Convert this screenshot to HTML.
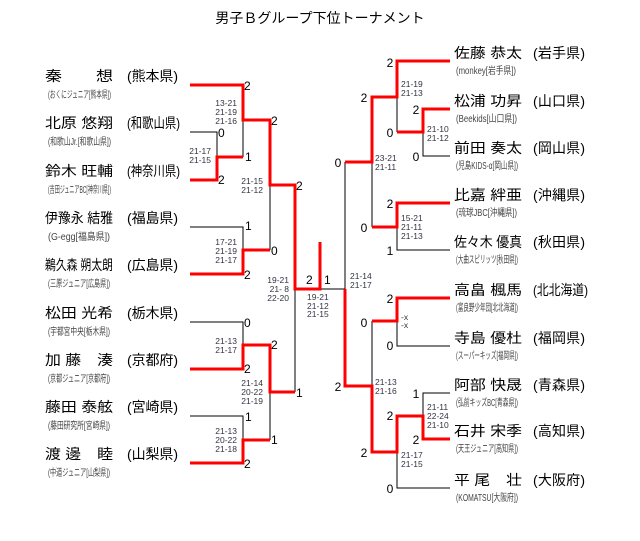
<!DOCTYPE html>
<html><head><meta charset="utf-8"><style>
html,body{margin:0;padding:0;background:#fff}
svg{display:block}
.t{font-family:"Liberation Sans","Noto Sans CJK JP",sans-serif}
.n{font-size:14px;fill:#000}
.p{font-size:14px;fill:#000}
.s{font-size:10px;fill:#444}
.g{font-size:8.5px;fill:#334}
.c{font-size:12px;fill:#000}
</style></head><body>
<svg width="640" height="541" viewBox="0 0 640 541" xmlns="http://www.w3.org/2000/svg" class="t">
<text x="320" y="23" class="n" text-anchor="middle" font-size="14">男子Ｂグループ下位トーナメント</text>

<!-- Left names -->
<g class="n">
<text x="45" y="81" textLength="68" lengthAdjust="spacingAndGlyphs">秦　　想</text>
<text x="45" y="128" textLength="68" lengthAdjust="spacingAndGlyphs">北原 悠翔</text>
<text x="45" y="176" textLength="68" lengthAdjust="spacingAndGlyphs">鈴木 旺輔</text>
<text x="45" y="223" textLength="68" lengthAdjust="spacingAndGlyphs">伊豫永 結雅</text>
<text x="45" y="270" textLength="68" lengthAdjust="spacingAndGlyphs">鵜久森 朔太朗</text>
<text x="45" y="318" textLength="68" lengthAdjust="spacingAndGlyphs">松田 光希</text>
<text x="45" y="365" textLength="68" lengthAdjust="spacingAndGlyphs">加 藤　湊</text>
<text x="45" y="412" textLength="68" lengthAdjust="spacingAndGlyphs">藤田 泰舷</text>
<text x="45" y="459" textLength="68" lengthAdjust="spacingAndGlyphs">渡 邊　睦</text>
</g>
<g class="p">
<text x="127" y="81" textLength="51" lengthAdjust="spacing">(熊本県)</text>
<text x="127" y="128" textLength="53" lengthAdjust="spacingAndGlyphs">(和歌山県)</text>
<text x="127" y="176" textLength="53" lengthAdjust="spacingAndGlyphs">(神奈川県)</text>
<text x="127" y="223" textLength="51" lengthAdjust="spacing">(福島県)</text>
<text x="127" y="270" textLength="51" lengthAdjust="spacing">(広島県)</text>
<text x="127" y="318" textLength="51" lengthAdjust="spacing">(栃木県)</text>
<text x="127" y="365" textLength="51" lengthAdjust="spacing">(京都府)</text>
<text x="127" y="412" textLength="51" lengthAdjust="spacing">(宮崎県)</text>
<text x="127" y="459" textLength="51" lengthAdjust="spacing">(山梨県)</text>
</g>
<g class="s">
<text x="48" y="98" textLength="63" lengthAdjust="spacingAndGlyphs">(おくにジュニア[熊本県])</text>
<text x="48" y="145" textLength="63" lengthAdjust="spacingAndGlyphs">(和歌山Jr.[和歌山県])</text>
<text x="48" y="193" textLength="63" lengthAdjust="spacingAndGlyphs">(吉田ジュニアBC[神奈川県])</text>
<text x="48" y="240" textLength="62" lengthAdjust="spacingAndGlyphs">(G-egg[福島県])</text>
<text x="48" y="287" textLength="62" lengthAdjust="spacingAndGlyphs">(三原ジュニア[広島県])</text>
<text x="48" y="335" textLength="62" lengthAdjust="spacingAndGlyphs">(宇都宮中央[栃木県])</text>
<text x="48" y="382" textLength="62" lengthAdjust="spacingAndGlyphs">(京都ジュニア[京都府])</text>
<text x="48" y="429" textLength="62" lengthAdjust="spacingAndGlyphs">(藤田研究所[宮崎県])</text>
<text x="48" y="476" textLength="62" lengthAdjust="spacingAndGlyphs">(中道ジュニア[山梨県])</text>
</g>

<!-- Right names -->
<g class="n">
<text x="454" y="58" textLength="68" lengthAdjust="spacingAndGlyphs">佐藤 恭太</text>
<text x="454" y="106" textLength="68" lengthAdjust="spacingAndGlyphs">松浦 功昇</text>
<text x="454" y="153" textLength="68" lengthAdjust="spacingAndGlyphs">前田 奏太</text>
<text x="454" y="200" textLength="68" lengthAdjust="spacingAndGlyphs">比嘉 絆亜</text>
<text x="454" y="247" textLength="68" lengthAdjust="spacingAndGlyphs">佐々木 優真</text>
<text x="454" y="295" textLength="68" lengthAdjust="spacingAndGlyphs">高畠 楓馬</text>
<text x="454" y="343" textLength="68" lengthAdjust="spacingAndGlyphs">寺島 優杜</text>
<text x="454" y="390" textLength="68" lengthAdjust="spacingAndGlyphs">阿部 快晟</text>
<text x="454" y="436" textLength="68" lengthAdjust="spacingAndGlyphs">石井 宋季</text>
<text x="454" y="485" textLength="68" lengthAdjust="spacingAndGlyphs">平 尾　壮</text>
</g>
<g class="p">
<text x="533" y="58" textLength="52" lengthAdjust="spacing">(岩手県)</text>
<text x="533" y="106" textLength="52" lengthAdjust="spacing">(山口県)</text>
<text x="533" y="153" textLength="52" lengthAdjust="spacing">(岡山県)</text>
<text x="533" y="200" textLength="52" lengthAdjust="spacing">(沖縄県)</text>
<text x="533" y="247" textLength="52" lengthAdjust="spacing">(秋田県)</text>
<text x="533" y="295" textLength="55" lengthAdjust="spacingAndGlyphs">(北北海道)</text>
<text x="533" y="343" textLength="52" lengthAdjust="spacing">(福岡県)</text>
<text x="533" y="390" textLength="52" lengthAdjust="spacing">(青森県)</text>
<text x="533" y="436" textLength="52" lengthAdjust="spacing">(高知県)</text>
<text x="533" y="485" textLength="52" lengthAdjust="spacing">(大阪府)</text>
</g>
<g class="s">
<text x="456" y="74" textLength="60" lengthAdjust="spacingAndGlyphs">(monkey[岩手県])</text>
<text x="456" y="122" textLength="61" lengthAdjust="spacingAndGlyphs">(Beekids[山口県])</text>
<text x="456" y="169" textLength="62" lengthAdjust="spacingAndGlyphs">(児島KIDS-α[岡山県])</text>
<text x="456" y="216" textLength="61" lengthAdjust="spacingAndGlyphs">(琉球JBC[沖縄県])</text>
<text x="456" y="263" textLength="62" lengthAdjust="spacingAndGlyphs">(大曲スピリッツ[秋田県])</text>
<text x="456" y="311" textLength="62" lengthAdjust="spacingAndGlyphs">(富良野少年団[北北海道])</text>
<text x="456" y="359" textLength="62" lengthAdjust="spacingAndGlyphs">(スーパーキッズ[福岡県])</text>
<text x="456" y="406" textLength="62" lengthAdjust="spacingAndGlyphs">(弘前キッズBC[青森県])</text>
<text x="456" y="452" textLength="62" lengthAdjust="spacingAndGlyphs">(天王ジュニア[高知県])</text>
<text x="456" y="501" textLength="62" lengthAdjust="spacingAndGlyphs">(KOMATSU[大阪府])</text>
</g>

<!-- Black lines -->
<g stroke="#000" stroke-width="1" fill="none">
<path d="M190 132H217V157"/>
<path d="M243 120V157"/>
<path d="M190 227H243V250"/>
<path d="M270 185V250"/>
<path d="M190 322H243V345"/>
<path d="M190 416H243V440"/>
<path d="M270 440V392"/>
<path d="M295 392V289"/>
<path d="M320 289H345V162"/>
<path d="M397 97V132"/>
<path d="M450 156H423V132"/>
<path d="M372 162V227"/>
<path d="M450 250H397V227"/>
<path d="M372 321V386"/>
<path d="M450 346H397V321"/>
<path d="M450 393H423V416"/>
<path d="M450 488H397V452"/>
</g>
<!-- Red lines -->
<g stroke="#ff0000" stroke-width="3" fill="none" stroke-linejoin="miter">
<path d="M190 85H243V120H270V185H295V289H320V242"/>
<path d="M190 180H217V157H243"/>
<path d="M190 274H243V250H270"/>
<path d="M190 369H243V345H270V392H295"/>
<path d="M190 463H243V440H270"/>
<path d="M450 61H397V97H372V162H345"/>
<path d="M397 132H423V109H450"/>
<path d="M450 203H397V227H372"/>
<path d="M450 298H397V321H372"/>
<path d="M345 289V386H372V452H397V416H423V439H450"/>
</g>

<!-- round scores -->
<g class="c">
<text x="244" y="90">2</text><text x="271" y="125">2</text>
<text x="218" y="137">0</text><text x="245" y="161">1</text>
<text x="218" y="184">2</text><text x="296" y="190">2</text>
<text x="245" y="230">1</text><text x="271" y="255">0</text>
<text x="244" y="279">2</text>
<text x="306" y="284">2</text><text x="324" y="284">1</text>
<text x="244" y="327">0</text><text x="271" y="349">2</text>
<text x="244" y="373">2</text><text x="296" y="397">1</text>
<text x="245" y="421">1</text><text x="271" y="444">1</text>
<text x="244" y="468">2</text>
</g>
<g class="c" text-anchor="middle">
<text x="390" y="67">2</text><text x="364" y="102">2</text>
<text x="390" y="137">0</text><text x="416" y="114">2</text>
<text x="416" y="161">0</text><text x="338" y="167">0</text>
<text x="390" y="208">2</text><text x="364" y="232">0</text>
<text x="390" y="255">1</text>
<text x="390" y="303">2</text><text x="364" y="327">0</text>
<text x="390" y="350">0</text><text x="338" y="391">2</text>
<text x="416" y="398">1</text><text x="390" y="420">2</text>
<text x="416" y="444">2</text><text x="364" y="457">2</text>
<text x="390" y="493">0</text>
</g>

<!-- game scores -->
<g class="g" text-anchor="end">
<text x="237" y="106">13-21</text><text x="237" y="115">21-19</text><text x="237" y="124">21-16</text>
<text x="211" y="154">21-17</text><text x="211" y="163">21-15</text>
<text x="263" y="184">21-15</text><text x="263" y="193">21-12</text>
<text x="237" y="245">17-21</text><text x="237" y="254">21-19</text><text x="237" y="263">21-17</text>
<text x="289" y="283">19-21</text><text x="289" y="292">21- 8</text><text x="289" y="301">22-20</text>
<text x="237" y="344">21-13</text><text x="237" y="353">21-17</text>
<text x="263" y="386">21-14</text><text x="263" y="395">20-22</text><text x="263" y="404">21-19</text>
<text x="237" y="434">21-13</text><text x="237" y="443">20-22</text><text x="237" y="452">21-18</text>
</g>
<g class="g">
<text x="307" y="300">19-21</text><text x="307" y="309">21-12</text><text x="307" y="317">21-15</text>
<text x="401" y="87">21-19</text><text x="401" y="96">21-13</text>
<text x="427" y="132">21-10</text><text x="427" y="141">21-12</text>
<text x="375" y="161">23-21</text><text x="375" y="170">21-11</text>
<text x="401" y="221">15-21</text><text x="401" y="230">21-11</text><text x="401" y="239">21-13</text>
<text x="350" y="279">21-14</text><text x="350" y="288">21-17</text>
<text x="401" y="320">-x</text><text x="401" y="328">-x</text>
<text x="375" y="385">21-13</text><text x="375" y="394">21-16</text>
<text x="427" y="410">21-11</text><text x="427" y="419">22-24</text><text x="427" y="428">21-10</text>
<text x="401" y="458">21-17</text><text x="401" y="467">21-15</text>
</g>
</svg>
</body></html>
